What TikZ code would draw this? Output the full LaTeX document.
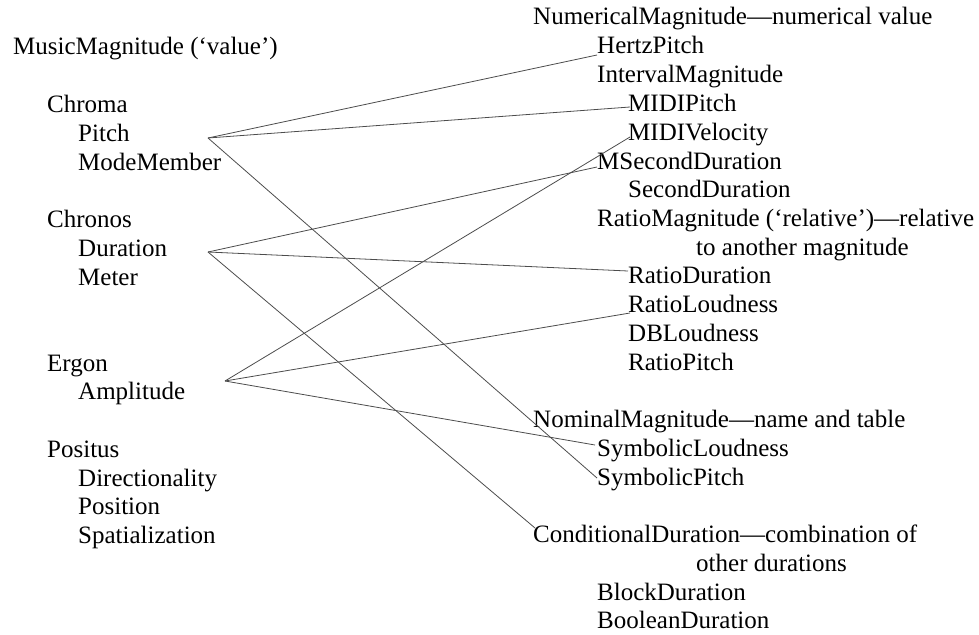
\documentclass[tikz,border=0pt]{standalone}
\usepackage{fontspec}
\setmainfont{Liberation Serif}
\usetikzlibrary{calc}

\begin{document}
\begin{tikzpicture}[
  x=1pt, y=-1pt,
  lbl/.style={anchor=base west, inner sep=0pt, font=\fontsize{25}{30}\selectfont},
  link/.style={draw=black!70, line width=0.8pt}
]
\useasboundingbox (0,0) rectangle (979,634);

% MusicMagnitude tree (left)
\def\LA{13}
\def\LB{47}
\def\LC{78}
\node[lbl] (music) at (\LA,55) {MusicMagnitude (‘value’)};
\node[lbl] (chroma) at (\LB,112) {Chroma};
\node[lbl] (pitch) at (\LC,141) {Pitch};
\node[lbl] (mode) at (\LC,170) {ModeMember};
\node[lbl] (chronos) at (\LB,227) {Chronos};
\node[lbl] (dur) at (\LC,256) {Duration};
\node[lbl] (meter) at (\LC,285) {Meter};
\node[lbl] (ergon) at (\LB,371) {Ergon};
\node[lbl] (ampl) at (\LC,399) {Amplitude};
\node[lbl] (positus) at (\LB,457) {Positus};
\node[lbl] (direc) at (\LC,486) {Directionality};
\node[lbl] (posit) at (\LC,514) {Position};
\node[lbl] (spat) at (\LC,543) {Spatialization};

% hubs right of the left labels
\coordinate (pitchhub) at (208,138);
\coordinate (durhub) at (208,252);
\coordinate (amphub) at (225,381);

% magnitude classes (right)
\def\RA{533}
\def\RB{597}
\def\RC{628}
\def\RD{696}
\node[lbl] (numer) at (\RA,25) {NumericalMagnitude—numerical value};
\node[lbl] (hertz) at (\RB,54) {HertzPitch};
\node[lbl] (interv) at (\RB,82) {IntervalMagnitude};
\node[lbl] (midip) at (\RC,111) {MIDIPitch};
\node[lbl] (midiv) at (\RC,140) {MIDIVelocity};
\node[lbl] (msec) at (\RB,169) {MSecondDuration};
\node[lbl] (sec) at (\RC,197) {SecondDuration};
\node[lbl] (ratio) at (\RB,226) {RatioMagnitude (‘relative’)—relative};
\node[lbl] (ratio2) at (\RD,255) {to another magnitude};
\node[lbl] (ratiodur) at (\RC,283) {RatioDuration};
\node[lbl] (ratioloud) at (\RC,312) {RatioLoudness};
\node[lbl] (dbloud) at (\RC,341) {DBLoudness};
\node[lbl] (ratiopitch) at (\RC,370) {RatioPitch};
\node[lbl] (nominal) at (\RA,427) {NominalMagnitude—name and table};
\node[lbl] (symloud) at (\RB,456) {SymbolicLoudness};
\node[lbl] (sympitch) at (\RB,485) {SymbolicPitch};
\node[lbl] (cond) at (\RA,542) {ConditionalDuration—combination of};
\node[lbl] (cond2) at (\RD,571) {other durations};
\node[lbl] (block) at (\RB,600) {BlockDuration};
\node[lbl] (bool) at (\RB,628) {BooleanDuration};

% Pitch links
\draw[link] (pitchhub) -- ($(hertz.base west)+(0,1)$);
\draw[link] (pitchhub) -- ($(midip.base west)+(2,-4)$);
\draw[link] (pitchhub) -- ($(sympitch.base west)+(0,-7)$);

% Duration links
\draw[link] (durhub) -- ($(msec.base west)+(0,-2)$);
\draw[link] (durhub) -- ($(ratiodur.base west)+(0,-12)$);
\draw[link] (durhub) -- ($(cond.base west)+(2,-14)$);

% Amplitude links
\draw[link] (amphub) -- ($(midiv.base west)+(2,-3)$);
\draw[link] (amphub) -- ($(ratioloud.base west)+(2,1)$);
\draw[link] (amphub) -- ($(symloud.base west)+(-2,-11)$);

\end{tikzpicture}
\end{document}
